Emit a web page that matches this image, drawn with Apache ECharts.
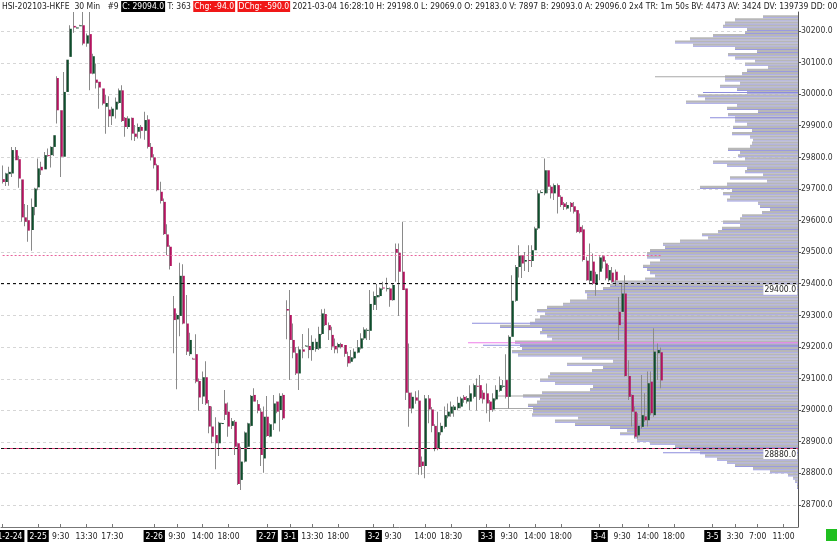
<!DOCTYPE html>
<html><head><meta charset="utf-8">
<script src="https://cdn.jsdelivr.net/npm/echarts@6/dist/echarts.min.js"></script>
<style>html,body{margin:0;padding:0;background:#fff}#c{width:837px;height:543px}</style>
</head><body><div id="c"></div>
<script>
const FONT = '"DejaVu Sans Condensed","DejaVu Sans",sans-serif';

// ---- 30 min candles (HSI-202103-HKFE) ----
const opens = [
29731,29722,29747,29749,29823,29794,29730,29610,29601,29570,29643,29705,29770,29762,29807,29807,29833,30051,29949,29802,
30007,30118,30216,30210,30217,30218,30160,30190,30065,30046,30039,30018,29960,29951,29930,29951,29972,30012,29925,29896,
29925,29875,29881,29896,29884,29920,29833,29800,29775,29691,29659,29556,29517,29322,29287,29298,29425,29274,29177,29163,
29177,29092,29043,29104,29013,28948,28921,28895,28957,29021,28995,28950,28963,28895,28779,28837,28884,28950,29048,29019,
28995,28847,28979,28916,28958,29027,29000,29048,29320,29301,29222,29180,29116,29192,29203,29203,29190,29193,29195,29241,
29304,29269,29238,29203,29199,29209,29206,29171,29153,29164,29182,29195,29227,29253,29251,29333,29357,29361,29388,29385,
29385,29348,29510,29498,29438,29385,29055,29005,29040,29030,28837,28823,29037,29002,28950,28880,28930,28947,28980,28989,
29000,29006,29011,29042,29027,29027,29042,29077,29079,29055,29053,29027,29002,29034,29061,29075,29095,29042,29232,29346,
29453,29490,29470,29475,29472,29506,29575,29688,29686,29759,29707,29686,29712,29675,29654,29638,29656,29645,29633,29580,
29572,29473,29409,29470,29396,29438,29487,29464,29411,29435,29438,29311,29311,29369,29108,29048,28995,28920,28947,28980,
28968,29090,28984,29180,29183];
const closes = [
29722,29749,29754,29823,29791,29733,29610,29596,29568,29643,29701,29765,29759,29807,29805,29833,29870,29949,29802,30007,
30109,30207,30211,30211,30218,30160,30186,30065,30120,30036,30021,29970,29972,29930,29954,29976,30012,29915,29896,29923,
29875,29865,29896,29884,29918,29833,29800,29775,29696,29662,29557,29517,29456,29285,29301,29425,29274,29185,29222,29162,
29090,29040,29104,29021,28948,28916,28895,28960,28959,28985,28948,28965,28884,28766,28837,28929,28958,29045,29027,28998,
28858,28979,28918,28955,29021,28995,29045,28974,29315,29222,29182,29116,29192,29185,29204,29190,29216,29216,29241,29306,
29269,29253,29201,29192,29209,29199,29178,29148,29167,29185,29199,29227,29255,29254,29336,29361,29364,29385,29387,29386,
29348,29396,29498,29438,29380,29055,29005,29042,29030,28820,28823,29037,29002,28950,28880,28930,28950,28984,28995,29011,
29011,29023,29037,29032,29038,29053,29079,29075,29037,29034,29021,29000,29037,29064,29079,29077,29042,29232,29346,29453,
29490,29464,29475,29472,29506,29575,29686,29690,29759,29707,29686,29712,29675,29649,29643,29649,29643,29628,29564,29563,
29475,29411,29441,29400,29430,29483,29470,29417,29443,29406,29411,29269,29369,29108,29042,28995,28916,28950,28984,28968,
29085,28990,29185,29190,29094];
const lows = [
29717,29709,29710,29738,29791,29704,29596,29582,29533,29504,29617,29696,29744,29762,29802,29768,29804,29907,29738,29802,
30007,30118,30194,30207,30215,30155,30150,30012,30063,30018,29954,29965,29875,29896,29902,29923,29970,29912,29865,29890,
29854,29852,29860,29860,29856,29828,29790,29765,29693,29654,29554,29491,29445,29180,29066,29234,29272,29174,29171,29160,
29085,28998,29019,29016,28927,28895,28813,28855,28956,28969,28916,28940,28858,28763,28747,28834,28882,28948,29027,28990,
28823,28802,28916,28914,28937,28990,28932,28969,29224,29095,29164,29111,29064,29164,29201,29164,29156,29185,29190,29238,
29266,29222,29190,29180,29180,29195,29169,29137,29148,29161,29180,29192,29222,29222,29222,29317,29317,29357,29380,29375,
29327,29346,29406,29298,29380,29032,28947,28990,29020,28795,28795,28784,28958,28930,28870,28873,28920,28942,28974,28979,
28979,29000,29006,29023,29021,29000,29037,28999,29032,29021,28990,28963,28995,29030,29058,29070,29037,29005,29232,29343,
29420,29418,29440,29437,29453,29506,29570,29686,29680,29686,29670,29665,29622,29643,29633,29635,29628,29622,29561,29560,
29470,29409,29400,29396,29362,29411,29448,29411,29406,29403,29393,29222,29311,29106,29032,28948,28910,28910,28942,28963,
28948,28984,28979,29095,29069];
const highs = [
29774,29751,29770,29833,29833,29805,29730,29652,29649,29670,29704,29796,29786,29817,29828,29835,29870,30057,29949,30070,
30109,30218,30260,30213,30220,30260,30192,30260,30128,30097,30039,30018,29997,29993,29960,29989,30018,30028,29928,29930,
29926,29902,29907,29902,29944,29933,29845,29810,29780,29723,29670,29588,29522,29361,29306,29466,29462,29364,29245,29166,
29240,29100,29122,29155,29032,29011,28977,28963,28960,29064,29024,28975,28969,28895,28884,28932,28960,29048,29069,29032,
29006,29011,29045,28958,29048,29027,29053,29053,29348,29380,29274,29200,29201,29241,29206,29259,29237,29227,29264,29319,
29321,29277,29264,29227,29213,29213,29206,29185,29190,29195,29222,29243,29262,29259,29380,29375,29399,29388,29406,29419,
29388,29401,29527,29527,29596,29385,29211,29056,29060,29063,28853,29048,29048,29010,28955,28995,28960,29011,29021,29027,
29016,29042,29042,29048,29045,29079,29084,29100,29111,29063,29084,29032,29053,29079,29106,29095,29177,29237,29427,29459,
29522,29490,29500,29522,29522,29580,29696,29696,29796,29759,29712,29717,29717,29680,29659,29659,29659,29659,29633,29622,
29585,29485,29527,29496,29438,29487,29490,29475,29459,29453,29445,29358,29400,29427,29158,29050,29011,28990,29111,29053,
29122,29122,29259,29211,29198];

// ---- axes ----
const slotCount = 247;                       // 30-min slots incl. the empty future area
const priceTicks = [28700,28800,28900,29000,29100,29200,29300,29400,29500,29600,29700,29800,29900,30000,30100,30200];
const tickIndex = [0,11,18,26,34,47,54,62,70,82,89,96,104,115,121,131,139,150,157,165,173,185,192,200,208,220,227,234,242];
const tickText = ['2021-2-24','2-25','9:30','13:30','17:30','2-26','9:30','14:00','18:00','2-27','3-1','13:30','18:00',
  '3-2','9:30','14:00','18:30','3-3','9:30','14:00','18:00','3-4','9:30','14:00','18:00','3-5','3:30','7:00','11:00'];

// ---- volume profile, 10-point rows from 30240 down to 28750 ----
const profileTop = 30240;
const profileStep = 10;
const profileVolume = [
350,630,730,750,510,530,850,1080,1230,1050,
630,410,700,630,430,530,300,510,560,730,
730,580,780,610,510,1000,930,1120,610,710,
400,700,630,630,510,650,460,660,480,450,
460,480,700,580,600,530,850,710,510,530,
350,680,310,710,980,660,750,680,710,400,
380,280,360,560,580,750,580,760,800,960,
900,1180,1350,1330,1480,1510,1510,1380,1480,1550,
1510,1480,1430,1530,1860,1880,1950,2130,2110,2110,
2280,2350,2510,2610,2530,2580,2630,2680,2980,2560,
2580,2510,2460,2830,2780,2760,2860,2800,2160,1850,
2310,1950,2060,2480,2500,2580,2430,2050,2080,2560,
2750,2580,2610,2700,2650,2650,2660,2200,2430,2230,
1880,1710,1780,1630,1610,1480,1230,1080,980,930,
810,710,630,450,280,100,50,30,10,10];
const blueLinePrice = [30000,29920,29270,29200,28860];
const blueLineVolume = [950,880,3260,3150,1350];
const grayLinePrice = [30050,29040,29000];
const grayLineVolume = [1430,3000,3060];
const pocPrice = 29213, pocVolume = 3300;

// ---- levels ----
const lastPrice = 29094.0;
const levelHigh = 29400.0;
const levelLow = 28880.0;
const dottedLevel = 29490;

const UP = '#0f4d2c', DOWN = '#b3135f';

const chart = echarts.init(document.getElementById('c'), null, {renderer: 'canvas'});
const cats = Array.from({length: slotCount}, (_, i) => String(i));
const labelMap = new Map(tickIndex.map((k, j) => [k, tickText[j]]));
const candles = opens.map((o, i) => [i, o, closes[i], lows[i], highs[i]]);
const profileData = profileVolume.map((v, i) => [v, profileTop - i * profileStep]);

function renderCandle(params, api) {
  const i = api.value(0), o = api.value(1), c = api.value(2), l = api.value(3), h = api.value(4);
  const pO = api.coord([i, o]), pC = api.coord([i, c]), pL = api.coord([i, l]), pH = api.coord([i, h]);
  const x = Math.round(pO[0]);
  const top = Math.min(pO[1], pC[1]), bot = Math.max(pO[1], pC[1]);
  return {type: 'group', children: [
    {type: 'rect', shape: {x: x - 1, y: pH[1], width: 1, height: Math.max(1, pL[1] - pH[1])}, style: {fill: '#8a8a8a'}},
    {type: 'rect', shape: {x: x - 0.2, y: top, width: 2, height: Math.max(1, bot - top)}, style: {fill: c >= o ? UP : DOWN}}
  ]};
}
function renderProfile(params, api) {
  const v = api.value(0), lo = api.value(1);
  const a = api.coord([v, lo + profileStep]);
  const b = api.coord([0, lo]);
  const w = b[0] - a[0], h = b[1] - a[1];
  return {type: 'group', children: [
    {type: 'rect', shape: {x: a[0], y: a[1], width: w, height: h - 1}, style: {fill: '#b7b7b7'}},
    {type: 'rect', shape: {x: a[0], y: b[1] - 1, width: w, height: 1}, style: {fill: '#9a9ae0'}}
  ]};
}
function lineRenderer(color) {
  return function (params, api) {
    const a = api.coord([api.value(0), api.value(1) + profileStep / 2]);
    const b = api.coord([0, api.value(1)]);
    return {type: 'rect', shape: {x: a[0], y: a[1] - 0.5, width: b[0] - a[0], height: 1}, style: {fill: color}};
  };
}
function renderGrid(params, api) {
  const cs = params.coordSys;
  const y = Math.round(api.coord([0, api.value(1)])[1]) + 0.5;
  return {type: 'line', shape: {x1: cs.x, y1: y, x2: cs.x + cs.width, y2: y},
    style: {stroke: '#d6d6d6', lineWidth: 1, lineDash: [3, 3]}};
}

const rt = {fontFamily: FONT, fontSize: 8.5};
const header = '{n|HSI-202103-HKFE  30 Min   #9 }{k|C: 29094.0}{n| T: 363 }{r|Chg: -94.0}{n| }{r|DChg: -590.0}' +
  '{n| 2021-03-04 16:28:10 H: 29198.0 L: 29069.0 O: 29183.0 V: 7897 B: 29093.0 A: 29096.0 2x4 TR: 1m 50s BV: 4473 AV: 3424 DV: 139739 DD: 00:00:00}';

chart.setOption({
  animation: false,
  backgroundColor: '#fff',
  title: {
    left: 2, top: 1, text: header, padding: 0,
    textStyle: {fontFamily: FONT, fontSize: 8.5, fontWeight: 'normal', color: '#222',
      rich: {
        n: Object.assign({color: '#222', padding: [1, 0, 1, 0]}, rt),
        k: Object.assign({color: '#fff', backgroundColor: '#000', padding: [1, 1, 1, 1]}, rt),
        r: Object.assign({color: '#fff', backgroundColor: '#f01818', padding: [1, 1, 1, 1]}, rt)
      }}
  },
  grid: {left: 1, right: 39, top: 12, bottom: 16, containLabel: false, outerBoundsMode: 'none'},
  xAxis: [{
    type: 'category', data: cats, boundaryGap: true,
    axisLine: {lineStyle: {color: '#777', width: 1}},
    axisTick: {show: true, inside: true, length: 3, alignWithLabel: true,
      interval: (i) => labelMap.has(i), lineStyle: {color: '#777'}},
    axisLabel: {
      interval: 0, margin: 3,
      formatter: (v, i) => {
        const t = labelMap.get(i);
        if (t === undefined) return '';
        return t.indexOf('-') >= 0 ? '{d|' + t + '}' : '{t|' + t + '}';
      },
      rich: {
        d: Object.assign({color: '#fff', backgroundColor: '#000', padding: [2, 2, 1, 2]}, rt),
        t: Object.assign({color: '#222', padding: [2, 0, 1, 0]}, rt)
      }
    },
    splitLine: {show: false}
  }, {
    type: 'value', inverse: true, min: 0, max: 7970, show: false
  }],
  yAxis: {
    type: 'value', position: 'right', min: 28630, max: 30260, scale: true,
    axisLine: {show: true, lineStyle: {color: '#555'}},
    axisTick: {show: true, length: 3, customValues: priceTicks, lineStyle: {color: '#555'}},
    axisLabel: {customValues: priceTicks, formatter: (v) => v.toFixed(1), color: '#333',
      fontFamily: FONT, fontSize: 8.5, margin: 3},
    splitLine: {show: false}
  },
  series: [
    {type: 'custom', name: 'grid', xAxisIndex: 1, yAxisIndex: 0, z: 1, silent: true,
      data: priceTicks.map(v => [0, v]), renderItem: renderGrid, encode: {x: 0, y: 1}},
    {type: 'custom', name: 'profile', xAxisIndex: 1, yAxisIndex: 0, z: 2, silent: true,
      data: profileData, renderItem: renderProfile, encode: {x: 0, y: 1}},
    {type: 'custom', name: 'blueLines', xAxisIndex: 1, yAxisIndex: 0, z: 2, silent: true,
      data: blueLinePrice.map((p, i) => [blueLineVolume[i], p]), renderItem: lineRenderer('#8c8cdc'), encode: {x: 0, y: 1}},
    {type: 'custom', name: 'grayLines', xAxisIndex: 1, yAxisIndex: 0, z: 2, silent: true,
      data: grayLinePrice.map((p, i) => [grayLineVolume[i], p]), renderItem: lineRenderer('#a8a8a8'), encode: {x: 0, y: 1}},
    {type: 'custom', name: 'poc', xAxisIndex: 1, yAxisIndex: 0, z: 2, silent: true,
      data: [[pocVolume, pocPrice - profileStep / 2]], renderItem: lineRenderer('#ee7ee8'), encode: {x: 0, y: 1}},
    {type: 'custom', name: 'HSI', xAxisIndex: 0, yAxisIndex: 0, z: 3, silent: true,
      data: candles, renderItem: renderCandle, encode: {x: 0, y: [1, 2, 3, 4]}, clip: false,
      markLine: {
        silent: true, symbol: 'none', animation: false,
        data: [
          [{coord: [0, dottedLevel], lineStyle: {color: '#e8639c', type: [2, 2], width: 1}, label: {show: false}},
           {coord: [opens.length - 1, dottedLevel]}],
          {yAxis: levelLow, lineStyle: {color: '#e0407a', type: [3, 3], dashOffset: 3, width: 1}, label: {show: false}},
          {yAxis: levelLow, lineStyle: {color: '#111', type: [3, 3], width: 1},
            label: {show: true, position: 'insideEndBottom', distance: 1, formatter: levelLow.toFixed(1),
              color: '#222', backgroundColor: '#fff', padding: [1, 1, 0, 1], fontFamily: FONT, fontSize: 8.5}},
          {yAxis: levelHigh, lineStyle: {color: '#111', type: [3, 3], width: 1},
            label: {show: true, position: 'insideEndBottom', distance: 1, formatter: levelHigh.toFixed(1),
              color: '#222', backgroundColor: '#fff', padding: [1, 1, 0, 1], fontFamily: FONT, fontSize: 8.5}},
          {yAxis: lastPrice, lineStyle: {opacity: 0},
            label: {show: true, position: 'end', distance: 2, formatter: lastPrice.toFixed(1),
              color: '#fff', backgroundColor: '#0b0b8a', padding: [2, 2, 1, 2], fontFamily: FONT, fontSize: 8.5}}
        ]
      }}
  ],
  graphic: [{type: 'rect', right: 0, bottom: 2, shape: {width: 11, height: 12}, style: {fill: '#1fbf1f'}}]
});
</script>
</body></html>
